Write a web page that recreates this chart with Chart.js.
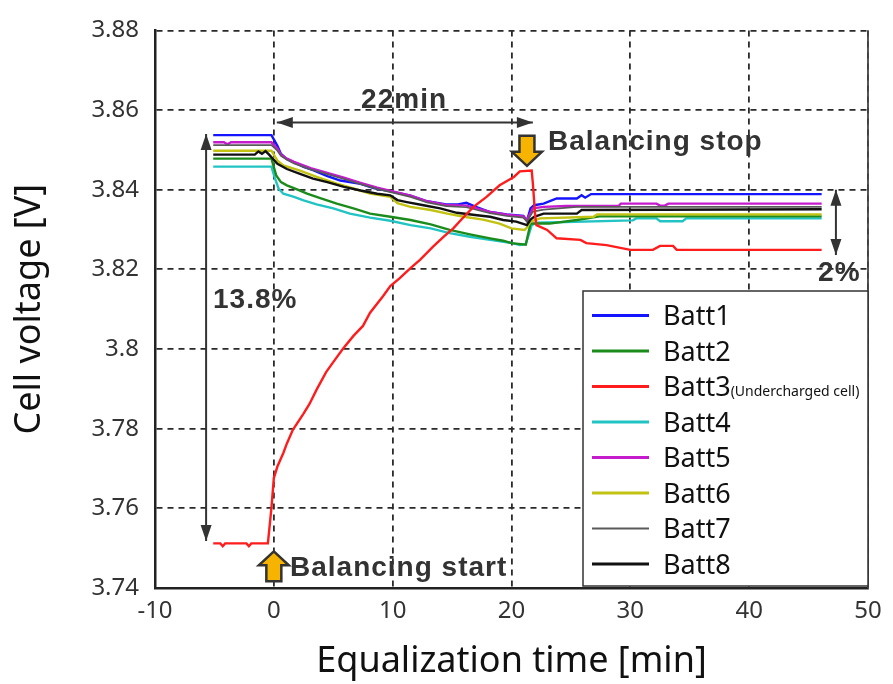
<!DOCTYPE html>
<html>
<head>
<meta charset="utf-8">
<script src="https://cdn.jsdelivr.net/npm/chart.js@4.4.1/dist/chart.umd.min.js"></script>
<style>
  html, body { margin: 0; padding: 0; background: #fff; }
  #wrap { width: 893px; height: 684px; position: relative; }
</style>
</head>
<body>
<div id="wrap"><canvas id="chart"></canvas></div>
<script>
// time [min] / cell voltage [V] per cell
const batt1T = [-5.1, -0.2, 0.3, 0.6, 1.1, 1.7, 2.5, 3.3, 4.5, 5.6, 7.3, 8.4, 9.8, 11.5, 12.9, 14.5, 15.5, 16.2, 17.0, 18.2, 19.6, 21.0, 21.3, 21.6, 21.9, 22.7, 23.8, 25.5, 25.9, 26.2, 26.7, 46.1];
const batt1V = [3.8537, 3.8537, 3.8510, 3.8490, 3.8477, 3.8469, 3.8457, 3.8449, 3.8434, 3.8423, 3.8415, 3.8404, 3.8396, 3.8385, 3.8371, 3.8363, 3.8363, 3.8367, 3.8357, 3.8344, 3.8338, 3.8334, 3.8322, 3.8353, 3.8361, 3.8365, 3.8378, 3.8378, 3.8386, 3.8380, 3.8389, 3.8389];

const batt2T = [-5.1, -0.2, 0.2, 0.6, 1.1, 2.0, 2.8, 3.9, 5.3, 6.7, 8.1, 9.8, 11.5, 13.2, 14.8, 16.5, 18.2, 19.3, 20.0, 21.2, 21.6, 23.2, 25.5, 27.4, 46.1];
const batt2V = [3.8478, 3.8478, 3.8436, 3.8419, 3.8411, 3.8400, 3.8390, 3.8379, 3.8365, 3.8353, 3.8340, 3.8332, 3.8324, 3.8313, 3.8299, 3.8288, 3.8278, 3.8272, 3.8266, 3.8262, 3.8315, 3.8315, 3.8324, 3.8333, 3.8333];

const batt3T = [-5.1, -4.5, -4.3, -4.1, -2.3, -2.1, -1.9, -0.5, -0.2, 0.0, 0.3, 0.8, 1.1, 1.6, 2.5, 3.0, 3.6, 4.4, 5.0, 5.8, 6.7, 7.5, 8.1, 9.2, 9.8, 10.6, 11.5, 12.3, 13.4, 14.3, 15.1, 16.0, 16.8, 17.9, 19.0, 20.2, 20.7, 21.7, 21.8, 22.0, 22.1, 23.0, 23.8, 25.8, 26.3, 28.0, 30.0, 31.9, 32.5, 33.6, 33.9, 46.1];
const batt3V = [3.7512, 3.7512, 3.7505, 3.7512, 3.7512, 3.7505, 3.7512, 3.7512, 3.7602, 3.7676, 3.7705, 3.7739, 3.7763, 3.7797, 3.7838, 3.7862, 3.7898, 3.7942, 3.7967, 3.8000, 3.8033, 3.8058, 3.8091, 3.8133, 3.8158, 3.8178, 3.8203, 3.8224, 3.8257, 3.8282, 3.8303, 3.8332, 3.8357, 3.8382, 3.8411, 3.8432, 3.8446, 3.8448, 3.8415, 3.8332, 3.8311, 3.8299, 3.8278, 3.8274, 3.8266, 3.8261, 3.8249, 3.8249, 3.8259, 3.8259, 3.8249, 3.8249];

const batt4T = [-5.1, -0.2, 0.1, 0.4, 0.8, 1.7, 2.5, 3.6, 5.0, 6.4, 8.1, 9.8, 11.5, 13.2, 14.8, 16.5, 18.2, 19.9, 20.7, 21.2, 21.4, 21.7, 22.1, 30.2, 30.5, 32.2, 32.5, 34.4, 34.7, 46.1];
const batt4V = [3.8458, 3.8458, 3.8428, 3.8403, 3.8390, 3.8382, 3.8373, 3.8363, 3.8353, 3.8340, 3.8330, 3.8322, 3.8311, 3.8303, 3.8291, 3.8282, 3.8274, 3.8267, 3.8261, 3.8264, 3.8282, 3.8311, 3.8317, 3.8323, 3.8328, 3.8328, 3.8321, 3.8321, 3.8328, 3.8328];

const batt5T = [-5.1, -4.2, -3.9, -3.6, -0.2, 0.3, 0.6, 1.1, 1.7, 3.1, 4.5, 5.9, 7.3, 8.7, 10.1, 11.5, 12.9, 14.5, 16.2, 18.2, 19.6, 21.0, 21.3, 21.8, 22.7, 24.6, 29.0, 29.2, 32.2, 32.5, 32.9, 33.2, 46.1];
const batt5V = [3.8519, 3.8519, 3.8514, 3.8519, 3.8519, 3.8503, 3.8488, 3.8478, 3.8470, 3.8454, 3.8442, 3.8430, 3.8417, 3.8405, 3.8395, 3.8385, 3.8371, 3.8362, 3.8360, 3.8344, 3.8337, 3.8333, 3.8324, 3.8353, 3.8357, 3.8359, 3.8359, 3.8365, 3.8365, 3.8360, 3.8360, 3.8365, 3.8365];

const batt6T = [-5.1, -0.2, 0.3, 0.8, 2.2, 3.6, 5.3, 6.7, 8.1, 9.8, 10.4, 11.5, 13.2, 14.6, 16.0, 17.6, 19.0, 20.0, 21.1, 21.3, 21.6, 22.4, 26.9, 27.2, 46.1];
const batt6V = [3.8498, 3.8498, 3.8473, 3.8461, 3.8448, 3.8432, 3.8415, 3.8403, 3.8390, 3.8382, 3.8366, 3.8357, 3.8349, 3.8340, 3.8332, 3.8325, 3.8315, 3.8303, 3.8299, 3.8305, 3.8320, 3.8328, 3.8332, 3.8338, 3.8338];

const batt7T = [-5.1, -0.2, 0.3, 0.6, 1.1, 1.7, 3.1, 4.5, 5.9, 7.3, 8.7, 10.1, 11.5, 12.9, 14.5, 16.2, 18.2, 19.6, 21.0, 21.3, 21.8, 22.7, 25.5, 46.1];
const batt7V = [3.8512, 3.8512, 3.8498, 3.8485, 3.8475, 3.8466, 3.8451, 3.8439, 3.8427, 3.8414, 3.8402, 3.8392, 3.8382, 3.8368, 3.8359, 3.8356, 3.8341, 3.8334, 3.8330, 3.8320, 3.8345, 3.8350, 3.8357, 3.8357];

const batt8T = [-5.1, -1.6, -1.3, -1.0, -0.7, -0.4, 0.3, 1.1, 2.2, 3.3, 4.5, 5.9, 7.3, 8.7, 9.8, 10.4, 11.2, 12.6, 14.0, 15.4, 17.1, 18.2, 19.3, 20.4, 21.3, 21.6, 21.9, 22.7, 25.5, 25.9, 46.1];
const batt8V = [3.8488, 3.8488, 3.8496, 3.8490, 3.8497, 3.8488, 3.8465, 3.8452, 3.8440, 3.8428, 3.8419, 3.8407, 3.8398, 3.8390, 3.8386, 3.8374, 3.8369, 3.8361, 3.8353, 3.8342, 3.8336, 3.8332, 3.8324, 3.8320, 3.8311, 3.8325, 3.8332, 3.8340, 3.8340, 3.8349, 3.8351];

const seriesNames = ['Batt1', 'Batt2', 'Batt3', 'Batt4', 'Batt5', 'Batt6', 'Batt7', 'Batt8'];
const yTicks = [3.74, 3.76, 3.78, 3.8, 3.82, 3.84, 3.86, 3.88];
const yTickLabels = ['3.74', '3.76', '3.78', '3.8', '3.82', '3.84', '3.86', '3.88'];
const xTicks = [-10, 0, 10, 20, 30, 40, 50];

const pts = (ts, vs) => ts.map((t, i) => ({ x: t, y: vs[i] }));

const series = [
  { t: batt1T, v: batt1V, color: '#1414ff', w: 2.4, order: 4 },
  { t: batt2T, v: batt2V, color: '#1b8c1b', w: 2.4, order: 6 },
  { t: batt3T, v: batt3V, color: '#ff1c1c', w: 2.4, order: 0 },
  { t: batt4T, v: batt4V, color: '#22c3c3', w: 2.4, order: 7 },
  { t: batt5T, v: batt5V, color: '#c41ccc', w: 2.4, order: 3 },
  { t: batt6T, v: batt6V, color: '#c2c212', w: 2.4, order: 5 },
  { t: batt7T, v: batt7V, color: '#5a5a5a', w: 1.7, order: 2 },
  { t: batt8T, v: batt8V, color: '#111111', w: 2.4, order: 1 },
];

// ── helpers for the annotation layer ──
function arrowHead(ctx, x, y, ang, L, W) {
  ctx.beginPath();
  ctx.moveTo(x, y);
  ctx.lineTo(x - L * Math.cos(ang) + W * Math.sin(ang), y - L * Math.sin(ang) - W * Math.cos(ang));
  ctx.lineTo(x - L * Math.cos(ang) - W * Math.sin(ang), y - L * Math.sin(ang) + W * Math.cos(ang));
  ctx.closePath();
  ctx.fill();
}
function dblArrow(ctx, x1, y1, x2, y2) {
  const ang = Math.atan2(y2 - y1, x2 - x1);
  ctx.beginPath();
  ctx.moveTo(x1, y1);
  ctx.lineTo(x2, y2);
  ctx.stroke();
  arrowHead(ctx, x2, y2, ang, 16, 5.5);
  arrowHead(ctx, x1, y1, ang + Math.PI, 16, 5.5);
}
function blockArrow(ctx, cx, tipY, dir) { // dir 1 = down, -1 = up
  const hw = 15, sw = 7.5, hl = 14, len = 30;
  const baseY = tipY - dir * hl, endY = tipY - dir * len;
  ctx.beginPath();
  ctx.moveTo(cx, tipY);
  ctx.lineTo(cx + hw, baseY);
  ctx.lineTo(cx + sw, baseY);
  ctx.lineTo(cx + sw, endY);
  ctx.lineTo(cx - sw, endY);
  ctx.lineTo(cx - sw, baseY);
  ctx.lineTo(cx - hw, baseY);
  ctx.closePath();
  ctx.fillStyle = '#f6b300';
  ctx.fill();
  ctx.lineWidth = 2.5;
  ctx.strokeStyle = '#333';
  ctx.stroke();
}

const notes = {
  id: 'notes',
  afterDatasetsDraw(chart) {
    const { ctx, chartArea: a, scales: { x, y } } = chart;
    const px = v => x.getPixelForValue(v);
    const py = v => y.getPixelForValue(v);
    ctx.save();

    // right frame
    ctx.strokeStyle = '#444';
    ctx.lineWidth = 1.8;
    ctx.beginPath();
    ctx.moveTo(a.right, a.top);
    ctx.lineTo(a.right, a.bottom);
    ctx.stroke();

    // dimension arrows
    ctx.strokeStyle = '#333';
    ctx.fillStyle = '#333';
    ctx.lineWidth = 2;
    dblArrow(ctx, px(-5.7), py(3.854), px(-5.7), py(3.7518));
    dblArrow(ctx, px(0.25), py(3.8569), px(21.8), py(3.8569));
    dblArrow(ctx, px(47.3), py(3.8400), px(47.3), py(3.8236));

    // balancing start / stop markers
    blockArrow(ctx, px(21.3), py(3.8460), 1);
    blockArrow(ctx, px(0), py(3.7492), -1);

    ctx.fillStyle = '#333';
    ctx.font = 'bold 28px "Liberation Sans", Arial, sans-serif';
    ctx.letterSpacing = '1px';
    ctx.textBaseline = 'alphabetic';
    ctx.textAlign = 'center';
    ctx.fillText('22min', px(10.96), py(3.8606));
    ctx.textAlign = 'left';
    ctx.fillText('Balancing stop', px(23.07), py(3.8499));
    ctx.fillText('Balancing start', px(1.36), py(3.7430));
    ctx.fillText('13.8%', px(-5.12), py(3.8104));
    ctx.fillText('2%', px(45.8), py(3.8171));
    ctx.letterSpacing = '0px';

    // legend box
    const bx = 583, by = 291, bw = a.right - bx, bh = 295;
    ctx.fillStyle = '#fff';
    ctx.fillRect(bx, by, bw, bh);
    ctx.strokeStyle = '#333';
    ctx.lineWidth = 1.5;
    ctx.strokeRect(bx, by, bw, bh);
    chart.data.datasets.forEach((ds, i) => {
      const base = 325 + i * 35.5;
      ctx.strokeStyle = ds.borderColor;
      ctx.lineWidth = ds.borderWidth + 0.4;
      ctx.beginPath();
      ctx.moveTo(592, base - 9.5);
      ctx.lineTo(649, base - 9.5);
      ctx.stroke();
      ctx.fillStyle = '#111';
      ctx.font = '27px "Noto Sans", sans-serif';
      ctx.fillText(ds.label, 663, base);
      if (i === 2) {
        const w = ctx.measureText(ds.label).width;
        ctx.font = '14px "Noto Sans", sans-serif';
        ctx.fillText('(Undercharged cell)', 663 + w, base);
      }
    });
    ctx.restore();
  }
};

new Chart(document.getElementById('chart'), {
  type: 'line',
  data: {
    datasets: series.map((s, i) => ({
      label: seriesNames[i],
      data: pts(s.t, s.v),
      borderColor: s.color,
      borderWidth: s.w,
      pointRadius: 0,
      tension: 0,
      fill: false,
      order: s.order,
    }))
  },
  options: {
    responsive: true,
    maintainAspectRatio: false,
    animation: false,
    layout: { padding: { top: 25, right: 25, left: 0, bottom: 0 } },
    plugins: { legend: { display: false }, tooltip: { enabled: false } },
    scales: {
      x: {
        type: 'linear',
        min: -10,
        max: 50,
        afterBuildTicks: s => { s.ticks = xTicks.map(v => ({ value: v })); },
        afterFit: s => { s.height = 96; },
        ticks: {
          padding: 9,
          color: '#333',
          font: { family: 'Noto Sans', size: 24 },
          callback: v => String(v),
        },
        grid: { color: '#2a2a2a', lineWidth: 1.8, drawTicks: false },
        border: { display: true, color: '#222', width: 2.5, dash: [6, 5] },
        title: {
          display: true,
          text: 'Equalization time [min]',
          color: '#111',
          font: { family: 'Noto Sans', size: 36 },
          padding: { top: 0, bottom: 1 },
        },
      },
      y: {
        min: 3.74,
        max: 3.88,
        afterBuildTicks: s => { s.ticks = yTicks.map(v => ({ value: v })); },
        afterFit: s => { s.width = 155; },
        ticks: {
          padding: 16,
          color: '#333',
          font: { family: 'Noto Sans', size: 24 },
          callback: (v, i) => yTickLabels[i],
        },
        grid: { color: '#2a2a2a', lineWidth: 1.8, drawTicks: false },
        border: { display: true, color: '#222', width: 2.5, dash: [6, 5] },
        title: {
          display: true,
          text: 'Cell voltage [V]',
          color: '#111',
          font: { family: 'Noto Sans', size: 36 },
          padding: { top: 8, bottom: 0 },
        },
      },
    },
  },
  plugins: [notes],
});
</script>
</body>
</html>
